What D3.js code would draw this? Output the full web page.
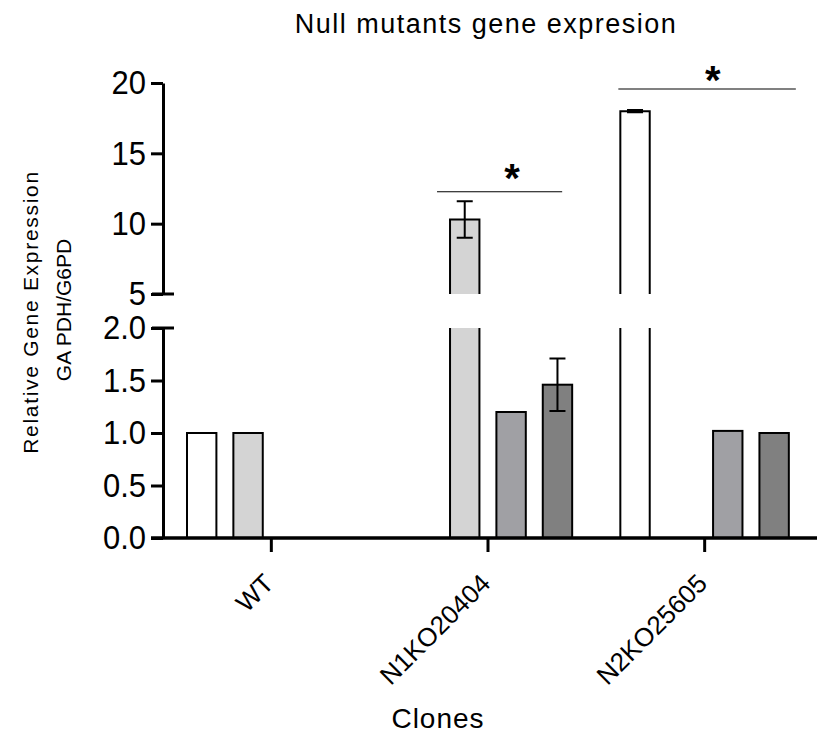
<!DOCTYPE html>
<html>
<head>
<meta charset="utf-8">
<script src="https://cdn.jsdelivr.net/npm/d3@7"></script>
<style>
  html, body { margin: 0; padding: 0; background: #ffffff; }
  svg { display: block; }
  text { font-family: "Liberation Sans", Arial, sans-serif; fill: #000; }
</style>
</head>
<body>
<div id="chart"></div>
<script>
// Clones on the x axis
const clones = ["WT", "N1KO20404", "N2KO25605"];
// Four bar series per clone (null = no bar)
const seriesKeys = ["s1", "s2", "s3", "s4"];
const series1 = [1.0, null, 18.0];
const series2 = [1.0, 10.3, null];
const series3 = [null, 1.2, 1.02];
const series4 = [null, 1.46, 1.0];
// Error bar half-widths (SEM)
const err1 = [null, null, 0.05];
const err2 = [null, 1.3, null];
const err3 = [null, null, null];
const err4 = [null, 0.25, null];
const seriesFills = ["#ffffff", "#d4d4d4", "#a0a0a4", "#808080"];
// Tick labels for the two y-axis segments
const lowTicks = [0, 0.5, 1.0, 1.5, 2.0];
const highTicks = [5, 10, 15, 20];
// Significance markers: clone, bracket height (upper segment units)
const sigClones = ["N1KO20404", "N2KO25605"];
const sigLevels = [12.27, 19.57];

const allValues = [series1, series2, series3, series4];
const allErrors = [err1, err2, err3, err4];

const W = 827, H = 737;
const svg = d3.select("#chart").append("svg").attr("width", W).attr("height", H);

// Scales: a broken y axis with a lower (0-2) and upper (5-20) segment
const x = d3.scaleBand().domain(clones).range([163, 813]);
const x1 = d3.scaleBand().domain(seriesKeys).range([24, 192.5]).paddingInner(0.366);
const yLow = d3.scaleLinear().domain([0, 2]).range([538, 328]);
const yHigh = d3.scaleLinear().domain([5, 20]).range([294, 83]);
const BREAK_LOW = 2, BREAK_HIGH = 5;

// Title
svg.append("text").attr("x", 486).attr("y", 33)
  .attr("text-anchor", "middle").style("font-size", "27px").style("letter-spacing", "1.5px")
  .text("Null mutants gene expresion");

// Bars
const bars = svg.append("g");
allValues.forEach((vals, si) => {
  vals.forEach((v, ci) => {
    if (v == null) return;
    const bx = x(clones[ci]) + x1(seriesKeys[si]);
    const bw = x1.bandwidth();
    const fill = seriesFills[si];
    if (v <= BREAK_LOW) {
      bars.append("rect").attr("x", bx).attr("y", yLow(v))
        .attr("width", bw).attr("height", yLow(0) - yLow(v))
        .attr("fill", fill).attr("stroke", "#000").attr("stroke-width", 2);
    } else {
      // lower piece, open at the break
      bars.append("rect").attr("x", bx).attr("y", yLow(BREAK_LOW))
        .attr("width", bw).attr("height", yLow(0) - yLow(BREAK_LOW)).attr("fill", fill);
      bars.append("path")
        .attr("d", `M${bx},${yLow(BREAK_LOW)}V${yLow(0)}H${bx + bw}V${yLow(BREAK_LOW)}`)
        .attr("fill", "none").attr("stroke", "#000").attr("stroke-width", 2);
      // upper piece, open at the break
      bars.append("rect").attr("x", bx).attr("y", yHigh(v))
        .attr("width", bw).attr("height", yHigh(BREAK_HIGH) - yHigh(v)).attr("fill", fill);
      bars.append("path")
        .attr("d", `M${bx},${yHigh(BREAK_HIGH)}V${yHigh(v)}H${bx + bw}V${yHigh(BREAK_HIGH)}`)
        .attr("fill", "none").attr("stroke", "#000").attr("stroke-width", 2);
    }
    const e = allErrors[si][ci];
    if (e != null) {
      const ys = v > BREAK_LOW ? yHigh : yLow;
      const cx = bx + bw / 2;
      const y0 = ys(v - e), y1 = ys(v + e);
      const cap = 8;
      bars.append("path")
        .attr("d", `M${cx},${y0}V${y1}M${cx - cap},${y0}H${cx + cap}M${cx - cap},${y1}H${cx + cap}`)
        .attr("fill", "none").attr("stroke", "#000").attr("stroke-width", e < 0.2 ? 3 : 2);
    }
  });
});

// Y axis: two segments
const fmtLow = d3.format(".1f");
const gLow = svg.append("g").attr("transform", "translate(163,0)")
  .call(d3.axisLeft(yLow).tickValues(lowTicks).tickFormat(fmtLow).tickSize(12).tickSizeOuter(0).tickPadding(5));
const gHigh = svg.append("g").attr("transform", "translate(163,0)")
  .call(d3.axisLeft(yHigh).tickValues(highTicks).tickFormat(d3.format("d")).tickSize(12).tickSizeOuter(0).tickPadding(5));
[gLow, gHigh].forEach(g => {
  g.select(".domain").attr("stroke", "#000").attr("stroke-width", 3);
  g.selectAll(".tick line").attr("stroke", "#000").attr("stroke-width", 3);
  g.selectAll(".tick text").style("font-size", "31px")
    .style("font-family", "'Liberation Sans', Arial, sans-serif")
    .attr("transform", "scale(1,1.1)");
});
// break marks crossing the axis
[yLow(BREAK_LOW), yHigh(BREAK_HIGH)].forEach(yy => {
  svg.append("line").attr("x1", 152).attr("x2", 174).attr("y1", yy).attr("y2", yy)
    .attr("stroke", "#000").attr("stroke-width", 3);
});

// X axis
const gx = svg.append("g").attr("transform", `translate(0,${yLow(0)})`)
  .call(d3.axisBottom(x).tickSize(14).tickSizeOuter(0).tickFormat(""));
gx.select(".domain").attr("d", "M151,0H817").attr("stroke", "#000").attr("stroke-width", 3.5);
gx.selectAll(".tick line").attr("stroke", "#000").attr("stroke-width", 3);

// Rotated clone labels
svg.append("g").selectAll("text").data(clones).join("text")
  .attr("transform", d => `translate(${x(d) + x.bandwidth() / 2 + 4},585) rotate(-45)`)
  .attr("text-anchor", "end")
  .style("font-size", "26px")
  .text(d => d);

// Axis titles
svg.append("text").attr("x", 438).attr("y", 728).attr("text-anchor", "middle")
  .style("font-size", "28px").style("letter-spacing", "1px").text("Clones");
svg.append("text").attr("transform", "translate(38,312) rotate(-90)").attr("text-anchor", "middle")
  .style("font-size", "21px").style("letter-spacing", "1.7px").text("Relative Gene Expression");
svg.append("text").attr("transform", "translate(71,310) rotate(-90)").attr("text-anchor", "middle")
  .style("font-size", "21px").text("GA PDH/G6PD");

// Significance brackets
const sig = svg.append("g");
sigClones.forEach((c, i) => {
  const yy = yHigh(sigLevels[i]);
  const first = i === 0 ? x(c) + x1("s2") - 13 : x(c) + x1("s1") - 2;
  const last = i === 0 ? x(c) + x1("s4") + x1.bandwidth() - 10 : x(c) + x1("s4") + x1.bandwidth() + 7;
  sig.append("line").attr("x1", first).attr("x2", last).attr("y1", yy).attr("y2", yy)
    .attr("stroke", i === 0 ? "#000" : "#808080").attr("stroke-width", i === 0 ? 1.2 : 2);
  sig.append("text").attr("x", x(c) + x.bandwidth() / 2 + (i === 0 ? 24 : 8))
    .attr("y", yy + (i === 0 ? 0 : 5))
    .attr("text-anchor", "middle").style("font-size", "40px").style("font-weight", "bold").text("*");
});
</script>
</body>
</html>
